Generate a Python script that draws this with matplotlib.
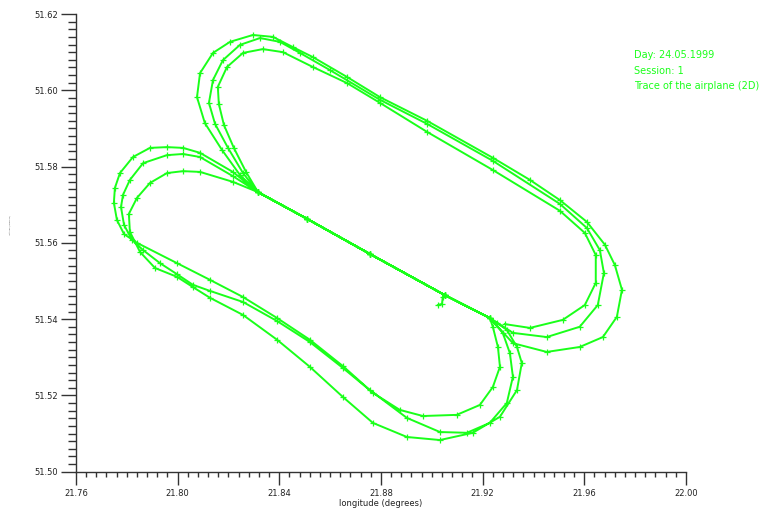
import matplotlib
matplotlib.use("Agg")
import matplotlib.pyplot as plt
from matplotlib.ticker import MultipleLocator, FormatStrFormatter

# Flight track, 24.05.1999, session 1 (longitude / latitude in degrees)

# taxi hook at the start of the record
hook_lon = [21.9024, 21.9040, 21.9043]
hook_lat = [51.5437, 51.5440, 51.5458]

# shared straight leg, flown south-east -> north-west
leg_lon = [21.9228, 21.9051, 21.8756, 21.8509, 21.8316]
leg_lat = [51.5403, 51.5463, 51.5571, 51.5663, 51.5733]

# western / southern lobe, three passes
west1_lon = [21.8217, 21.8088, 21.8021, 21.7958, 21.7891, 21.7824, 21.7773, 21.7753,
             21.7749, 21.7761, 21.7789, 21.7840, 21.7997, 21.8127, 21.8257, 21.8391,
             21.8520, 21.8650, 21.8756, 21.8902, 21.9032, 21.9138, 21.9228, 21.9295,
             21.9319, 21.9307, 21.9279]
west1_lat = [51.5786, 51.5836, 51.5849, 51.5851, 51.5849, 51.5825, 51.5783, 51.5744,
             51.5705, 51.5660, 51.5623, 51.5600, 51.5547, 51.5503, 51.5458, 51.5403,
             51.5346, 51.5277, 51.5214, 51.5141, 51.5104, 51.5102, 51.5128, 51.5180,
             51.5249, 51.5311, 51.5364]

west2_lon = [21.8217, 21.8088, 21.8021, 21.7958, 21.7864, 21.7812, 21.7785, 21.7777,
             21.7789, 21.7820, 21.7864, 21.7930, 21.7997, 21.8060, 21.8127, 21.8257,
             21.8391, 21.8520, 21.8650, 21.8768, 21.8874, 21.8965, 21.9098, 21.9189,
             21.9240, 21.9268, 21.9260, 21.9240]
west2_lat = [51.5775, 51.5825, 51.5833, 51.5830, 51.5809, 51.5765, 51.5726, 51.5694,
             51.5647, 51.5608, 51.5581, 51.5547, 51.5518, 51.5490, 51.5474, 51.5445,
             51.5395, 51.5340, 51.5272, 51.5207, 51.5162, 51.5146, 51.5149, 51.5175,
             51.5222, 51.5275, 51.5327, 51.5380]

west3_lon = [21.8217, 21.8088, 21.8021, 21.7958, 21.7891, 21.7840, 21.7808, 21.7812,
             21.7852, 21.7911, 21.7997, 21.8060, 21.8127, 21.8257, 21.8391, 21.8520,
             21.8650, 21.8768, 21.8902, 21.9032, 21.9161, 21.9268, 21.9335, 21.9354,
             21.9335, 21.9295, 21.9256]
west3_lat = [51.5760, 51.5786, 51.5788, 51.5783, 51.5757, 51.5718, 51.5676, 51.5629,
             51.5576, 51.5534, 51.5511, 51.5484, 51.5456, 51.5411, 51.5346, 51.5275,
             51.5196, 51.5128, 51.5091, 51.5083, 51.5102, 51.5144, 51.5214, 51.5285,
             51.5327, 51.5372, 51.5390]

# northern / eastern lobe, three passes
north1_lon = [21.8245, 21.8174, 21.8107, 21.8076, 21.8088, 21.8139, 21.8206, 21.8296,
              21.8375, 21.8454, 21.8532, 21.8666, 21.8796, 21.8981, 21.9240, 21.9386,
              21.9504, 21.9610, 21.9681, 21.9720, 21.9748, 21.9728, 21.9673, 21.9582,
              21.9452, 21.9319]
north1_lat = [51.5778, 51.5844, 51.5914, 51.5982, 51.6045, 51.6098, 51.6127, 51.6145,
              51.6140, 51.6113, 51.6087, 51.6035, 51.5982, 51.5920, 51.5823, 51.5765,
              51.5712, 51.5655, 51.5595, 51.5542, 51.5477, 51.5406, 51.5353, 51.5327,
              51.5314, 51.5337]

north2_lon = [21.8257, 21.8198, 21.8147, 21.8123, 21.8139, 21.8178, 21.8245, 21.8324,
              21.8402, 21.8481, 21.8599, 21.8796, 21.8981, 21.9240, 21.9504, 21.9610,
              21.9661, 21.9677, 21.9653, 21.9582, 21.9452, 21.9319]
north2_lat = [51.5783, 51.5849, 51.5912, 51.5967, 51.6027, 51.6079, 51.6119, 51.6137,
              51.6127, 51.6098, 51.6053, 51.5975, 51.5912, 51.5815, 51.5702, 51.5639,
              51.5581, 51.5521, 51.5437, 51.5380, 51.5353, 51.5364]

north3_lon = [21.8269, 21.8221, 21.8182, 21.8162, 21.8158, 21.8194, 21.8257, 21.8335,
              21.8414, 21.8532, 21.8666, 21.8796, 21.8981, 21.9240, 21.9504, 21.9602,
              21.9645, 21.9645, 21.9602, 21.9515, 21.9386, 21.9287]
north3_lat = [51.5786, 51.5849, 51.5909, 51.5964, 51.6009, 51.6061, 51.6098, 51.6108,
              51.6100, 51.6061, 51.6019, 51.5967, 51.5891, 51.5791, 51.5684, 51.5626,
              51.5568, 51.5495, 51.5437, 51.5398, 51.5377, 51.5387]

info_lines = ["Day: 24.05.1999", "Session: 1", "Trace of the airplane (2D)"]

GREEN = "#1aff1a"

# chain the pieces in flight order
track_lon = hook_lon + leg_lon[1:]
track_lat = hook_lat + leg_lat[1:]
for (wl, wt), (nl, nt) in zip([(west1_lon, west1_lat), (west2_lon, west2_lat), (west3_lon, west3_lat)],
                              [(north1_lon, north1_lat), (north2_lon, north2_lat), (north3_lon, north3_lat)]):
    track_lon += wl + leg_lon + nl
    track_lat += wt + leg_lat + nt
    track_lon += leg_lon
    track_lat += leg_lat
track_lon = track_lon[:-len(leg_lon)]
track_lat = track_lat[:-len(leg_lat)]

plt.rcParams["font.family"] = ["DejaVu Sans"]
fig = plt.figure(figsize=(7.74, 5.14), dpi=100)
ax = fig.add_axes([76 / 774, 1 - 471.7 / 514, 610 / 774, 457.7 / 514])

ax.plot(track_lon, track_lat, color=GREEN, lw=1.4, marker="+", ms=4.5, mew=0.9,
        solid_joinstyle="round")

ax.set_xlim(21.76, 22.00)
ax.set_ylim(51.50, 51.62)

for side in ("top", "right"):
    ax.spines[side].set_visible(False)
for side in ("left", "bottom"):
    ax.spines[side].set_color("#333333")
    ax.spines[side].set_linewidth(1.0)

ax.xaxis.set_major_locator(MultipleLocator(0.04))
ax.xaxis.set_minor_locator(MultipleLocator(0.004))
ax.yaxis.set_major_locator(MultipleLocator(0.02))
ax.yaxis.set_minor_locator(MultipleLocator(0.002))
ax.xaxis.set_major_formatter(FormatStrFormatter("%.2f"))
ax.yaxis.set_major_formatter(FormatStrFormatter("%.2f"))

ax.tick_params(axis="x", which="major", length=9.5, width=1, pad=3, labelsize=6,
               color="#333333", labelcolor="#222222")
ax.tick_params(axis="x", which="minor", length=3.6, width=1, color="#333333")
ax.tick_params(axis="y", which="major", length=11, width=1, pad=2, labelsize=6,
               color="#333333", labelcolor="#222222")
ax.tick_params(axis="y", which="minor", length=5.8, width=1, color="#333333")

ax.set_xlabel("longitude (degrees)", fontsize=6, color="#222222", labelpad=1)
fig.text(10 / 774, 1 - 225 / 514, "latitude (degrees)", rotation=90, fontsize=1.6,
         color="#666666", ha="center", va="center")

for i, line in enumerate(info_lines):
    fig.text(634 / 774, 1 - (55 + 15.5 * i) / 514, line, fontsize=7, color=GREEN,
             ha="left", va="center")

fig.savefig("out.png", dpi=100)
